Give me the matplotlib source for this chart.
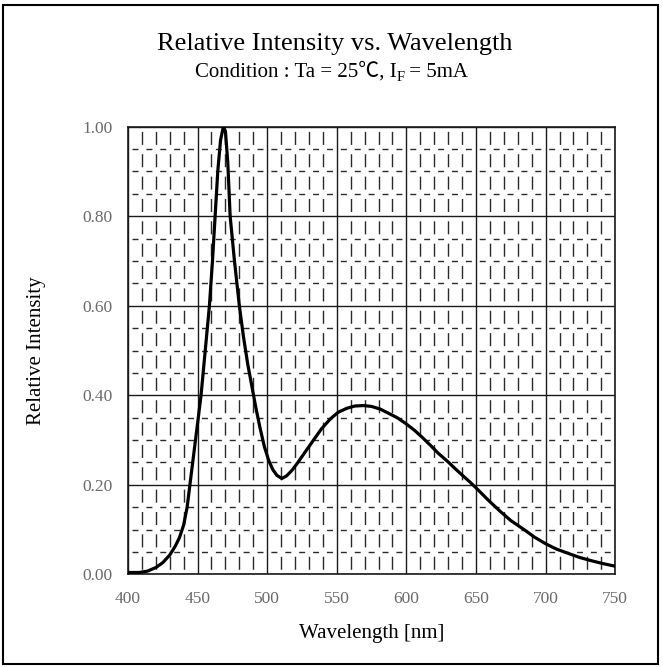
import matplotlib
matplotlib.use('Agg')
import matplotlib.pyplot as plt
import matplotlib.ticker as tck
from matplotlib.patches import Rectangle

# Spectrum
wavelength = [400, 408, 414, 420, 425, 430, 434, 437, 440, 442.5, 444.5, 446.5,
              448.5, 450.5, 452.5, 455.5, 458.5, 460.7, 462.6, 464.5, 466.5,
              468.5, 470, 471.7, 473.4, 476.5, 480, 483, 486, 489, 492, 495, 498,
              501, 504, 507, 510.5, 514, 518, 521.4, 527, 533.3, 539, 545.3, 551,
              557.3, 563, 569.3, 575, 581.3, 587, 593.3, 599, 605.3, 611, 617.3,
              623, 629.3, 635, 641, 646, 651, 659, 667.6, 675, 684.4, 692, 700.7,
              708, 716, 724, 732, 741, 750]
intensity = [0.004, 0.004, 0.007, 0.015, 0.026, 0.043, 0.063, 0.082, 0.11, 0.15,
             0.20, 0.25, 0.30, 0.35, 0.40, 0.50, 0.60, 0.70, 0.80, 0.90, 0.97,
             1.00, 0.99, 0.92, 0.80, 0.70, 0.60, 0.53, 0.47, 0.42, 0.37, 0.325,
             0.285, 0.255, 0.234, 0.221, 0.214, 0.22, 0.233, 0.247, 0.272, 0.30,
             0.325, 0.347, 0.362, 0.371, 0.376, 0.377, 0.375, 0.369, 0.36, 0.35,
             0.338, 0.323, 0.307, 0.288, 0.27, 0.253, 0.236, 0.219, 0.205, 0.19,
             0.165, 0.14, 0.12, 0.10, 0.083, 0.067, 0.056, 0.047, 0.038, 0.031,
             0.024, 0.018]

x_ticks = [400, 450, 500, 550, 600, 650, 700, 750]
y_ticks = [0.0, 0.2, 0.4, 0.6, 0.8, 1.0]

serif = ['Liberation Serif', 'Noto Sans CJK JP', 'DejaVu Serif']
plt.rcParams['font.family'] = serif

fig = plt.figure(figsize=(6.63, 6.67), dpi=100)
ax = fig.add_axes([0.193, 0.139, 0.735, 0.671])

# outer frame round the whole picture
fig.patches.append(Rectangle((0.005, 0.005), 0.988, 0.988, transform=fig.transFigure,
                             fill=False, edgecolor='black', linewidth=1.5))

ax.plot(wavelength, intensity, color='black', linewidth=2.3, zorder=5)

ax.set_xlim(400, 750)
ax.set_ylim(0, 1.0)
ax.set_xticks(x_ticks)
ax.set_yticks(y_ticks)
ax.set_yticklabels(['%.2f' % v for v in y_ticks])
ax.xaxis.set_minor_locator(tck.MultipleLocator(10))
ax.yaxis.set_minor_locator(tck.MultipleLocator(0.05))

# grid
ax.grid(which='major', color='#1a1a1a', linewidth=1.0)
ax.grid(which='minor', axis='x', color='#2a2a2a', linewidth=1.0,
        linestyle=(12.7, (9.4, 6.7)))
ax.grid(which='minor', axis='y', color='#2a2a2a', linewidth=1.0,
        linestyle=(7.1, (4.3, 5.7)))
ax.set_axisbelow(True)

for sp in ax.spines.values():
    sp.set_color('#1a1a1a')
    sp.set_linewidth(1.2)

ax.tick_params(which='both', length=0)
ax.tick_params(axis='y', pad=11, labelsize=12.5, labelcolor='#6a6a6a')
ax.tick_params(axis='x', pad=12, labelsize=12.5, labelcolor='#6a6a6a')

ax.set_xlabel('Wavelength [nm]', fontsize=15, labelpad=12)
ax.set_ylabel('Relative Intensity', fontsize=15, labelpad=26)

fig.text(0.505, 0.925, 'Relative Intensity vs. Wavelength', ha='center', va='baseline',
         fontsize=19)

# subtitle put together from pieces so that I_F gets a real subscript
renderer = fig.canvas.get_renderer()
pieces = [('Condition : Ta = 25\u2103, I', 15, 0.0),
          ('F', 10.5, -0.006),
          (' = 5mA', 15, 0.0)]
texts = []
for s, size, dy in pieces:
    t = fig.text(0, 0.885 + dy, s, ha='left', va='baseline', fontsize=size)
    texts.append(t)
widths = [t.get_window_extent(renderer).width / fig.bbox.width for t in texts]
x0 = 0.5 - sum(widths) / 2
for t, w in zip(texts, widths):
    t.set_x(x0)
    x0 += w

fig.savefig('out.png', dpi=100)
